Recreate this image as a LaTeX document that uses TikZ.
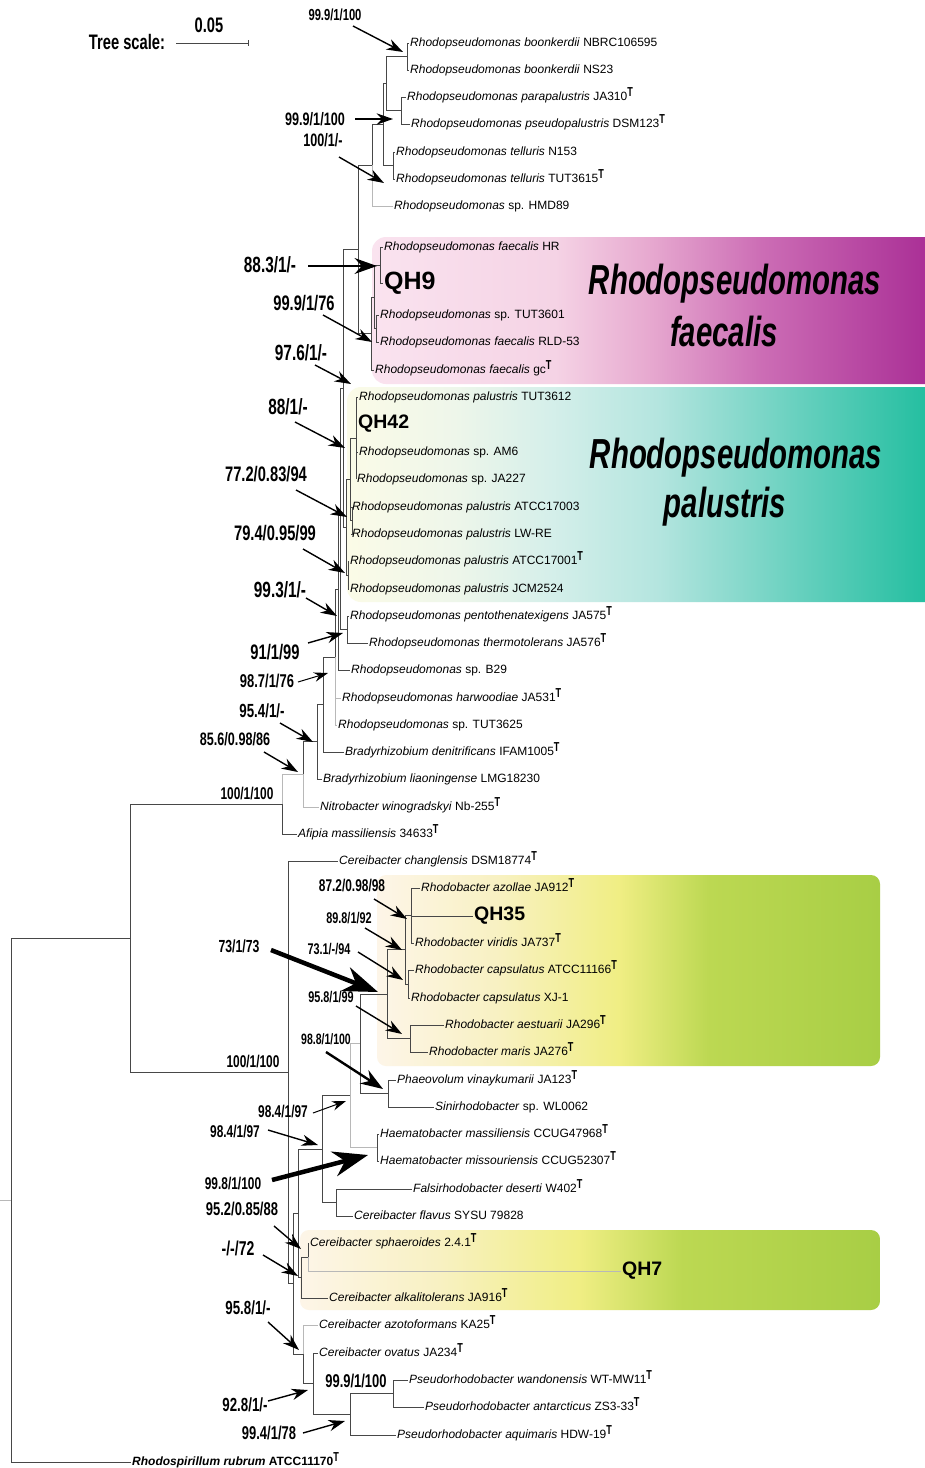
\documentclass[tikz,border=0pt]{standalone}
\usepackage{fontspec}
\setmainfont{Liberation Sans}
\newfontfamily\condfont[FakeStretch=0.7]{Liberation Sans}
\usetikzlibrary{arrows.meta}

\definecolor{faecA}{HTML}{FAE3EF}
\definecolor{faecB}{HTML}{F5D3E5}
\definecolor{faecC}{HTML}{E7AAD0}
\definecolor{faecD}{HTML}{CC6DB5}
\definecolor{faecE}{HTML}{AB3197}
\definecolor{palA}{HTML}{FBFBE7}
\definecolor{palB}{HTML}{EEF6EA}
\definecolor{palC}{HTML}{D5EFEA}
\definecolor{palD}{HTML}{B4E5DF}
\definecolor{palE}{HTML}{5FCEBB}
\definecolor{palF}{HTML}{1ABC9C}
\definecolor{rbA}{HTML}{FDF5E8}
\definecolor{rbB}{HTML}{F8F1C2}
\definecolor{rbC}{HTML}{F0EE84}
\definecolor{rbD}{HTML}{BCD852}
\definecolor{rbE}{HTML}{A8CE45}

\pgfdeclarehorizontalshading{faecshade}{100bp}{color(0bp)=(faecA); color(25bp)=(faecA); color(41bp)=(faecB); color(49bp)=(faecC); color(59bp)=(faecD); color(73bp)=(faecE); color(100bp)=(faecE)}
\pgfdeclarehorizontalshading{palshade}{100bp}{color(0bp)=(palA); color(25bp)=(palA); color(34bp)=(palB); color(42bp)=(palC); color(51bp)=(palD); color(64bp)=(palE); color(75bp)=(palF); color(100bp)=(palF)}
\pgfdeclarehorizontalshading{rbshade}{100bp}{color(0bp)=(rbA); color(25bp)=(rbA); color(37bp)=(rbB); color(49bp)=(rbC); color(58bp)=(rbD); color(75bp)=(rbE); color(100bp)=(rbE)}

\newcommand{\tst}{\raisebox{4pt}{\condfont\bfseries\fontsize{13}{13}\selectfont T}}

\begin{document}
\begin{tikzpicture}[x=1pt, y=-1pt, >={Stealth[length=8pt 6, width=5pt 4.5]},
  br/.style={draw=black!72, line width=0.8pt},
  brl/.style={draw=black!28, line width=0.8pt},
  leaf/.style={anchor=west, inner sep=1pt, text height=9pt, text depth=3pt, font=\fontsize{12}{14}\selectfont},
  qh/.style={anchor=west, inner sep=1pt, font=\bfseries\fontsize{#1}{#1}\selectfont},
  bs/.style={inner sep=0pt, font=\condfont\bfseries\fontsize{#1}{#1}\selectfont},
  clade/.style={inner sep=0pt, font=\condfont\bfseries\itshape\fontsize{42}{42}\selectfont},
  arr/.style={->, line width=1.4pt},
  arrthin/.style={->, line width=1pt},
  arrthick/.style={->, line width=2.4pt},
  arrfat/.style={->, line width=4.5pt}]

\fill[white] (0,0) rectangle (925,1468);
\useasboundingbox (0,0) rectangle (925,1468);

% coloured clade boxes
\shade[shading=faecshade, rounded corners=14pt] (372,237) rectangle (945,384);
\shade[shading=palshade, rounded corners=14pt] (347,387) rectangle (945,602);
\shade[shading=rbshade, rounded corners=9pt] (377,875) rectangle (880,1066);
\shade[shading=rbshade, rounded corners=9pt] (300,1230) rectangle (880,1310);

\node[clade] (faecG) at (735,284) {Rhodopseudomonas};
\node[clade] (faecS) at (724,331) {faecalis};
\node[clade] (palG) at (736,458) {Rhodopseudomonas};
\node[clade] (palS) at (725,507) {palustris};

% scale
\node[bs=22, font=\condfont\bfseries\fontsize{21}{21}\selectfont] (tsc) at (127,42) {Tree scale:};
\node[bs=21] (sc) at (209,25) {0.05};
\coordinate (sbL) at (176,43);
\coordinate (sbR) at (248,43);
\draw[br] (sbL) -- (sbR);
\draw[br] (sbR) ++(0,-3) -- ++(0,6);

% leaves
\node[leaf] (boonNB) at (409,43) {\textit{Rhodopseudomonas boonkerdii} NBRC106595};
\node[leaf] (boonNS) at (409,70) {\textit{Rhodopseudomonas boonkerdii} NS23};
\node[leaf] (parapal) at (406,97) {\textit{Rhodopseudomonas parapalustris} JA310\tst};
\node[leaf] (pseudopal) at (410,124) {\textit{Rhodopseudomonas pseudopalustris} DSM123\tst};
\node[leaf] (tellN) at (395,152) {\textit{Rhodopseudomonas telluris} N153};
\node[leaf] (tellT) at (395,179) {\textit{Rhodopseudomonas telluris} TUT3615\tst};
\node[leaf] (hmd) at (393,206) {\textit{Rhodopseudomonas} sp. HMD89};
\node[leaf] (faecHR) at (383,247) {\textit{Rhodopseudomonas faecalis} HR};
\node[qh=25] (qh9) at (383,283) {QH9};
\node[leaf] (tut3601) at (379,315) {\textit{Rhodopseudomonas} sp. TUT3601};
\node[leaf] (rld) at (379,342) {\textit{Rhodopseudomonas faecalis} RLD-53};
\node[leaf] (faecgc) at (374,370) {\textit{Rhodopseudomonas faecalis} gc\tst};
\node[leaf] (tut3612) at (358,397) {\textit{Rhodopseudomonas palustris} TUT3612};
\node[qh=19.5] (qh42) at (357,424) {QH42};
\node[leaf] (am6) at (358,452) {\textit{Rhodopseudomonas} sp. AM6};
\node[leaf] (ja227) at (356,479) {\textit{Rhodopseudomonas} sp. JA227};
\node[leaf] (atcc17003) at (351,507) {\textit{Rhodopseudomonas palustris} ATCC17003};
\node[leaf] (lwre) at (351,534) {\textit{Rhodopseudomonas palustris} LW-RE};
\node[leaf] (atcc17001) at (349,561) {\textit{Rhodopseudomonas palustris} ATCC17001\tst};
\node[leaf] (jcm) at (349,589) {\textit{Rhodopseudomonas palustris} JCM2524};
\node[leaf] (pento) at (349,616) {\textit{Rhodopseudomonas pentothenatexigens} JA575\tst};
\node[leaf] (thermo) at (368,643) {\textit{Rhodopseudomonas thermotolerans} JA576\tst};
\node[leaf] (b29) at (350,670) {\textit{Rhodopseudomonas} sp. B29};
\node[leaf] (harw) at (341,698) {\textit{Rhodopseudomonas harwoodiae} JA531\tst};
\node[leaf] (tut3625) at (337,725) {\textit{Rhodopseudomonas} sp. TUT3625};
\node[leaf] (bdeni) at (344,752) {\textit{Bradyrhizobium denitrificans} IFAM1005\tst};
\node[leaf] (bliao) at (322,779) {\textit{Bradyrhizobium liaoningense} LMG18230};
\node[leaf] (nwino) at (319,807) {\textit{Nitrobacter winogradskyi} Nb-255\tst};
\node[leaf] (afipia) at (297,834) {\textit{Afipia massiliensis} 34633\tst};
\node[leaf] (cchang) at (338,861) {\textit{Cereibacter changlensis} DSM18774\tst};
\node[leaf] (razol) at (420,888) {\textit{Rhodobacter azollae} JA912\tst};
\node[qh=19.5] (qh35) at (473,916) {QH35};
\node[leaf] (rviri) at (414,943) {\textit{Rhodobacter viridis} JA737\tst};
\node[leaf] (rcapA) at (414,970) {\textit{Rhodobacter capsulatus} ATCC11166\tst};
\node[leaf] (rcapX) at (410,998) {\textit{Rhodobacter capsulatus} XJ-1};
\node[leaf] (raest) at (444,1025) {\textit{Rhodobacter aestuarii} JA296\tst};
\node[leaf] (rmaris) at (428,1052) {\textit{Rhodobacter maris} JA276\tst};
\node[leaf] (pvina) at (396,1080) {\textit{Phaeovolum vinaykumarii} JA123\tst};
\node[leaf] (sinir) at (434,1107) {\textit{Sinirhodobacter} sp. WL0062};
\node[leaf] (hmass) at (379,1134) {\textit{Haematobacter massiliensis} CCUG47968\tst};
\node[leaf] (hmiss) at (379,1161) {\textit{Haematobacter missouriensis} CCUG52307\tst};
\node[leaf] (fdes) at (412,1189) {\textit{Falsirhodobacter deserti} W402\tst};
\node[leaf] (cflav) at (353,1216) {\textit{Cereibacter flavus} SYSU 79828};
\node[leaf] (csph) at (309,1243) {\textit{Cereibacter sphaeroides} 2.4.1\tst};
\node[qh=19.5] (qh7) at (621,1271) {QH7};
\node[leaf] (calk) at (328,1298) {\textit{Cereibacter alkalitolerans} JA916\tst};
\node[leaf] (cazo) at (318,1325) {\textit{Cereibacter azotoformans} KA25\tst};
\node[leaf] (covat) at (318,1353) {\textit{Cereibacter ovatus} JA234\tst};
\node[leaf] (pwand) at (408,1380) {\textit{Pseudorhodobacter wandonensis} WT-MW11\tst};
\node[leaf] (pantar) at (424,1407) {\textit{Pseudorhodobacter antarcticus} ZS3-33\tst};
\node[leaf] (paqui) at (396,1435) {\textit{Pseudorhodobacter aquimaris} HDW-19\tst};
\node[leaf] (rrub) at (131,1462) {\textbf{\textit{Rhodospirillum rubrum} ATCC11170}\tst};

% internal nodes
\coordinate (boon) at (407,56.5);
\coordinate (para) at (401,110.5);
\coordinate (boonpara) at (386,83.5);
\coordinate (tell) at (393,165.5);
\coordinate (rpA) at (383,124.5);
\coordinate (rpB) at (372,165);
\coordinate (faec1) at (380,265);
\coordinate (faec2) at (376,328.5);
\coordinate (faec3) at (374,297);
\coordinate (faec) at (371,333.5);
\coordinate (rpC) at (358,249.3);
\coordinate (pal1) at (356,438);
\coordinate (pal2) at (352,520.5);
\coordinate (pal3) at (350,479.3);
\coordinate (pal4) at (348,575);
\coordinate (pal) at (346,527.1);
\coordinate (rpD) at (343,388.2);
\coordinate (ptx) at (347,629.5);
\coordinate (rpE) at (340,508.9);
\coordinate (rpF) at (338,589.4);
\coordinate (rp) at (335,657.2);
\coordinate (brad1) at (323,704.6);
\coordinate (brad2) at (317,741.8);
\coordinate (nitro) at (303,774.4);
\coordinate (alpha) at (282,804.2);
\coordinate (azol) at (411,915.5);
\coordinate (caps) at (408,984);
\coordinate (rb1) at (405,949.8);
\coordinate (aest) at (410,1038.5);
\coordinate (rb2) at (387,994.1);
\coordinate (phae) at (388,1093.5);
\coordinate (rb3) at (360,1043.8);
\coordinate (haem) at (377,1147.5);
\coordinate (rb4) at (350,1095.7);
\coordinate (fals) at (336,1202.5);
\coordinate (rb5) at (322,1149.1);
\coordinate (sph1) at (308,1257);
\coordinate (sph) at (301,1277.5);
\coordinate (rb6) at (298,1213.3);
\coordinate (pse1) at (393,1393.5);
\coordinate (pse2) at (350,1414.3);
\coordinate (ovat) at (313,1383.6);
\coordinate (azot) at (303,1354.3);
\coordinate (rb7) at (293,1283.8);
\coordinate (rhodob) at (288,1072.4);
\coordinate (top) at (130,938.3);
\coordinate (root) at (11,1200);
\coordinate (stub) at (0,1200);

% branches
\draw[br] (boon) |- (boonNB.west) (boon) |- (boonNS.west)
  (para) |- (parapal.west) (para) |- (pseudopal.west)
  (boonpara) |- (boon) (boonpara) |- (para)
  (tell) |- (tellN.west) (tell) |- (tellT.west)
  (rpA) |- (boonpara) (rpA) |- (tell)
  (rpB) |- (rpA)
  (faec1) |- (faecHR.west) (faec1) |- (qh9.west)
  (faec2) |- (tut3601.west) (faec2) |- (rld.west)
  (faec3) |- (faec1) (faec3) |- (faec2)
  (faec) |- (faec3) (faec) |- (faecgc.west)
  (rpC) |- (rpB) (rpC) |- (faec)
  (pal1) |- (tut3612.west) (pal1) |- (qh42.west) (pal1) |- (am6.west) (pal1) |- (ja227.west)
  (pal2) |- (atcc17003.west) (pal2) |- (lwre.west)
  (pal3) |- (pal1) (pal3) |- (pal2)
  (pal4) |- (atcc17001.west) (pal4) |- (jcm.west)
  (pal) |- (pal3) (pal) |- (pal4)
  (rpD) |- (rpC) (rpD) |- (pal)
  (ptx) |- (pento.west) (ptx) |- (thermo.west)
  (rpE) |- (rpD) (rpE) |- (ptx)
  (rpF) |- (rpE) (rpF) |- (b29.west)
  (rp) |- (rpF)
  (brad1) |- (rp) (brad1) |- (bdeni.west)
  (brad2) |- (brad1) (brad2) |- (bliao.west)
  (nitro) |- (brad2)
  (alpha) |- (afipia.west)
  (top) |- (alpha) (top) |- (rhodob)
  (root) |- (top) (root) |- (rrub.west);
\draw[brl] (rpB) |- (hmd.west) (rp) |- (harw.west) (rp) |- (tut3625.west)
  (nitro) |- (nwino.west) (alpha) |- (nitro) (stub) -- (root);

\draw[br] (azol) |- (razol.west) (azol) |- (qh35.west) (azol) |- (rviri.west)
  (caps) |- (rcapA.west) (caps) |- (rcapX.west)
  (rb1) |- (azol) (rb1) |- (caps)
  (aest) |- (raest.west) (aest) |- (rmaris.west)
  (rb2) |- (rb1) (rb2) |- (aest)
  (phae) |- (pvina.west) (phae) |- (sinir.west)
  (rb3) |- (rb2) (rb3) |- (phae)
  (haem) |- (hmass.west) (haem) |- (hmiss.west)
  (fals) |- (fdes.west) (fals) |- (cflav.west)
  (rb5) |- (rb4) (rb5) |- (fals)
  (sph1) |- (csph.west)
  (sph) |- (sph1) (sph) |- (calk.west)
  (rb6) |- (rb5) (rb6) |- (sph)
  (pse1) |- (pwand.west) (pse1) |- (pantar.west)
  (pse2) |- (pse1) (pse2) |- (paqui.west)
  (ovat) |- (covat.west) (ovat) |- (pse2)
  (azot) |- (ovat)
  (rb7) |- (rb6) (rb7) |- (azot)
  (rhodob) |- (cchang.west) (rhodob) |- (rb7);
\draw[brl] (rb4) |- (rb3) (rb4) |- (haem) (sph1) |- (qh7.west) (azot) |- (cazo.west);

% support values
\node[bs=16] (s1) at (335,15) {99.9/1/100};
\node[bs=18] (s2) at (315,119) {99.9/1/100};
\node[bs=18] (s3) at (323,140) {100/1/-};
\node[bs=22] (s4) at (270,265) {88.3/1/-};
\node[bs=21] (s5) at (304,303) {99.9/1/76};
\node[bs=22] (s6) at (301,353) {97.6/1/-};
\node[bs=22] (s7) at (288,407) {88/1/-};
\node[bs=21] (s8) at (266,474) {77.2/0.83/94};
\node[bs=21] (s9) at (275,533) {79.4/0.95/99};
\node[bs=22] (s10) at (280,590) {99.3/1/-};
\node[bs=21] (s11) at (275,652) {91/1/99};
\node[bs=18.5] (s12) at (267,681) {98.7/1/76};
\node[bs=19] (s13) at (262,711) {95.4/1/-};
\node[bs=18] (s14) at (235,739) {85.6/0.98/86};
\node[bs=17] (s15) at (247,793) {100/1/100};
\node[bs=17] (s16) at (352,885) {87.2/0.98/98};
\node[bs=15.5] (s17) at (349,918) {89.8/1/92};
\node[bs=15.5] (s18) at (329,949) {73.1/-/94};
\node[bs=17.5] (s19) at (239,946) {73/1/73};
\node[bs=15.5] (s20) at (331,997) {95.8/1/99};
\node[bs=15] (s21) at (326,1039) {98.8/1/100};
\node[bs=17] (s22) at (253,1061) {100/1/100};
\node[bs=17] (s23) at (283,1111) {98.4/1/97};
\node[bs=17] (s24) at (235,1131) {98.4/1/97};
\node[bs=17] (s25) at (233,1183) {99.8/1/100};
\node[bs=18.5] (s26) at (242,1209) {95.2/0.85/88};
\node[bs=20] (s27) at (238,1248) {-/-/72};
\node[bs=19] (s28) at (248,1308) {95.8/1/-};
\node[bs=19] (s29) at (245,1405) {92.8/1/-};
\node[bs=18.5] (s30) at (269,1433) {99.4/1/78};
\node[bs=18.5] (s31) at (356,1381) {99.9/1/100};

\coordinate (t1) at (403,52);
\coordinate (t2) at (393,119);
\coordinate (t3) at (384,183);
\coordinate (t4) at (377,266);
\coordinate (t5) at (372,342);
\coordinate (t6) at (351,384);
\coordinate (t7) at (345,448);
\coordinate (t8) at (347,517);
\coordinate (t9) at (345,573);
\coordinate (t10) at (337,616);
\coordinate (t11) at (343,633);
\coordinate (t12) at (328,673);
\coordinate (t13) at (313,742);
\coordinate (t14) at (298,772);
\coordinate (t16) at (407,919);
\coordinate (t17) at (402,950);
\coordinate (t18) at (403,980);
\coordinate (t19) at (378,992);
\coordinate (t20) at (402,1034);
\coordinate (t21) at (383,1089);
\coordinate (t23) at (346,1101);
\coordinate (t24) at (318,1145);
\coordinate (t25) at (368,1155);
\coordinate (t26) at (301,1249);
\coordinate (t27) at (298,1276);
\coordinate (t28) at (299,1350);
\coordinate (t29) at (308,1390);
\coordinate (t30) at (345,1421);

\draw[arr] ([shift={(18,11)}]s1.center) -- (t1);
\draw[arr] ([shift={(40,0)}]s2.center) -- (t2);
\draw[arr] ([shift={(16,17)}]s3.center) -- (t3);
\draw[arrthick] ([shift={(38,1)}]s4.center) -- (t4);
\draw[arr] ([shift={(19,12)}]s5.center) -- (t5);
\draw[arr] ([shift={(14,12)}]s6.center) -- (t6);
\draw[arr] ([shift={(7,15)}]s7.center) -- (t7);
\draw[arr] ([shift={(30,16)}]s8.center) -- (t8);
\draw[arr] ([shift={(28,16)}]s9.center) -- (t9);
\draw[arr] ([shift={(26,8)}]s10.center) -- (t10);
\draw[arr] ([shift={(33,-9)}]s11.center) -- (t11);
\draw[arrthin] ([shift={(31,1)}]s12.center) -- (t12);
\draw[arr] ([shift={(18,12)}]s13.center) -- (t13);
\draw[arr] ([shift={(29,13)}]s14.center) -- (t14);
\draw[arr] ([shift={(22,14)}]s16.center) -- (t16);
\draw[arr] ([shift={(16,10)}]s17.center) -- (t17);
\draw[arr] ([shift={(29,3)}]s18.center) -- (t18);
\draw[arrfat] ([shift={(32,4)}]s19.center) -- (t19);
\draw[arr] ([shift={(25,9)}]s20.center) -- (t20);
\draw[arrthick] ([shift={(0,13)}]s21.center) -- (t21);
\draw[arrthin] ([shift={(30,2)}]s23.center) -- (t23);
\draw[arr] ([shift={(33,-1)}]s24.center) -- (t24);
\draw[arrfat] ([shift={(39,-3)}]s25.center) -- (t25);
\draw[arr] ([shift={(32,17)}]s26.center) -- (t26);
\draw[arr] ([shift={(25,7)}]s27.center) -- (t27);
\draw[arr] ([shift={(20,14)}]s28.center) -- (t28);
\draw[arr] ([shift={(23,-4)}]s29.center) -- (t29);
\draw[arr] ([shift={(34,0)}]s30.center) -- (t30);
\end{tikzpicture}
\end{document}
